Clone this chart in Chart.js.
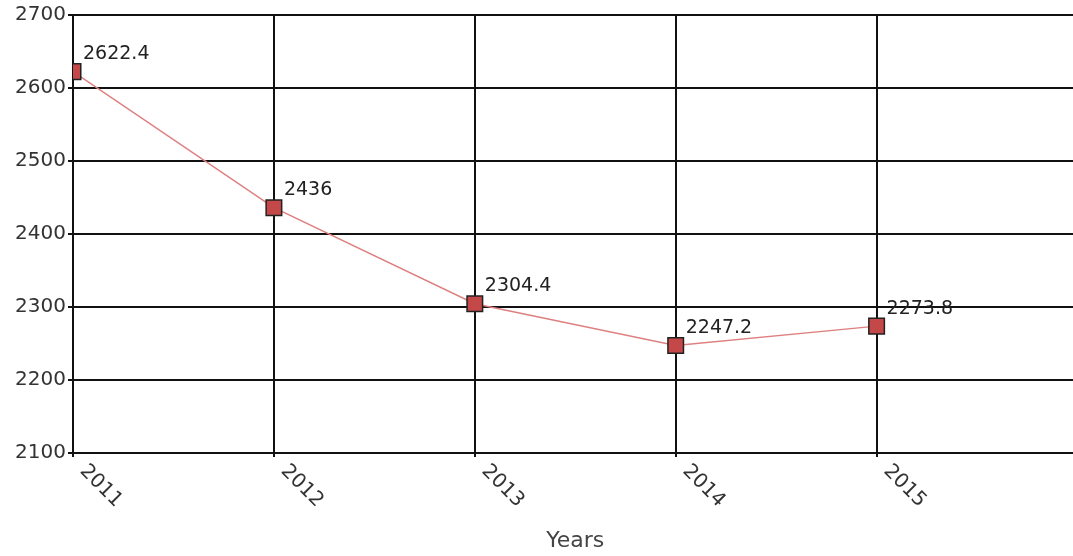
<!DOCTYPE html>
<html>
<head>
<meta charset="utf-8">
<script src="https://cdn.jsdelivr.net/npm/chart.js@4.4.0/dist/chart.umd.min.js"></script>
<style>
  html, body { margin: 0; padding: 0; background: #fff; overflow: hidden; }
  #wrap { width: 1073px; height: 556px; overflow: hidden; }
  #myChart { display: block; }
</style>
</head>
<body>
<div id="wrap">
  <canvas id="myChart" width="1090" height="556"></canvas>
</div>
<script>
const years = [2011, 2012, 2013, 2014, 2015];
const values = [2622.4, 2436, 2304.4, 2247.2, 2273.8];
const yTicks = [2100, 2200, 2300, 2400, 2500, 2600, 2700];

// rotated year labels below the x axis, going down to the right
const yearLabels = {
  id: 'yearLabels',
  afterDraw(chart) {
    const ctx = chart.ctx;
    const x = chart.scales.x;
    const y = chart.scales.y;
    ctx.save();
    ctx.font = '20px "DejaVu Sans"';
    ctx.fillStyle = '#333';
    ctx.textAlign = 'left';
    ctx.textBaseline = 'middle';
    years.forEach(yr => {
      const px = x.getPixelForValue(yr);
      ctx.save();
      ctx.translate(px + 10, y.bottom + 15);
      ctx.rotate(Math.PI / 4);
      ctx.fillText(String(yr), 0, 0);
      ctx.restore();
    });
    ctx.restore();
  }
};

// value text up and to the right of each point
const valueLabels = {
  id: 'valueLabels',
  afterDatasetsDraw(chart) {
    const ctx = chart.ctx;
    const meta = chart.getDatasetMeta(0);
    ctx.save();
    ctx.font = '19px "DejaVu Sans"';
    ctx.fillStyle = '#222';
    ctx.textAlign = 'left';
    ctx.textBaseline = 'bottom';
    meta.data.forEach((pt, i) => {
      ctx.fillText(String(values[i]), pt.x + 10, pt.y - 8);
    });
    ctx.restore();
  }
};

const ctx = document.getElementById('myChart').getContext('2d');

const chart = new Chart(ctx, {
  type: 'line',
  data: {
    datasets: [
      {
        data: years.map((yr, i) => ({ x: yr, y: values[i] })),
        borderColor: 'rgb(222, 128, 128)',
        borderWidth: 1.5,
        backgroundColor: 'rgb(196, 72, 72)',
        pointStyle: 'rect',
        pointRadius: 11,
        pointHoverRadius: 11,
        pointBackgroundColor: 'rgb(196, 72, 72)',
        pointBorderColor: '#222',
        pointBorderWidth: 1.5,
        tension: 0,
        clip: 0
      }
    ]
  },
  options: {
    responsive: false,
    animation: false,
    layout: { padding: { top: 15, right: 0, left: 0, bottom: 0 } },
    plugins: {
      legend: { display: false },
      tooltip: { enabled: false }
    },
    scales: {
      x: {
        type: 'linear',
        min: 2011,
        max: 2016,
        afterFit: scale => { scale.height = 103; },
        ticks: { display: false, stepSize: 1 },
        grid: { color: '#111', lineWidth: 2, tickLength: 4 },
        border: { color: '#111', width: 2 },
        title: {
          display: true,
          text: 'Years',
          color: '#444',
          font: { family: 'DejaVu Sans', size: 22 },
          padding: { top: 0, bottom: 2 }
        }
      },
      y: {
        min: 2100,
        max: 2700,
        afterFit: scale => { scale.width = 73; },
        afterBuildTicks: scale => { scale.ticks = yTicks.map(v => ({ value: v })); },
        ticks: {
          color: '#333',
          font: { family: 'DejaVu Sans', size: 20 },
          padding: 2,
          callback: value => String(value)
        },
        grid: { color: '#111', lineWidth: 2, tickLength: 5 },
        border: { color: '#111', width: 2 }
      }
    }
  },
  plugins: [yearLabels, valueLabels]
});
</script>
</body>
</html>
